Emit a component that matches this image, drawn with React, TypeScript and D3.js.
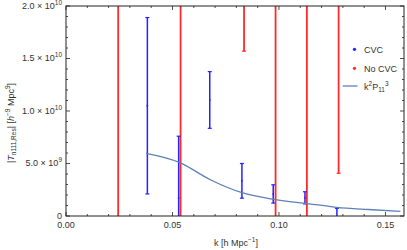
import * as d3 from "d3";

// k positions of the binned measurements
const cvcK = [0.0382, 0.0529, 0.0675, 0.0826, 0.0973, 0.1122, 0.1272];
const cvcVal = [1.05e10, 1.7e9, 1.105e10, 3.35e9, 2.1e9, 1.73e9, -1.0e8];
const cvcErr = [8.4e9, 5.9e9, 2.7e9, 1.65e9, 0.87e9, 0.58e9, 0.83e9];

const noCvcK = [0.0245, 0.0538, 0.0836, 0.0984, 0.1131, 0.128];
const noCvcVal = [1.0e10, 1.0e10, 3.0e10, 1.076e10, 7.24e9, 1.66e10];
const noCvcErr = [3.0e10, 2.5e10, 1.43e10, 1.5e10, 1.5e10, 1.253e10];

const modelK = [0.0376, 0.0532, 0.068, 0.0826, 0.0973, 0.1122, 0.127, 0.142, 0.157];
const modelVal = [5.97e9, 5.11e9, 3.43e9, 2.22e9, 1.59e9, 1.21e9, 8.3e8, 6.2e8, 4.5e8];

const xTicks = [0, 0.05, 0.1, 0.15];
const xTickLabels = ["0.00", "0.05", "0.10", "0.15"];
const yTicks = [0, 5e9, 1e10, 1.5e10, 2e10];
const yTickMant = ["0", "5.0", "1.0", "1.5", "2.0"];
const yTickExp = ["", "9", "10", "10", "10"];

const W = 407;
const H = 250;
const m = { left: 66, right: 3, top: 6, bottom: 34 };

const BLUE = "#2323ff";
const RED = "#ff2a2a";
const LINE = "#5e81b5";
const FONT = "'Liberation Sans', Arial, sans-serif";

export default function App() {
  const x = d3.scaleLinear().domain([0, 0.1587]).range([m.left, W - m.right]);
  const y = d3.scaleLinear().domain([0, 2e10]).range([H - m.bottom, m.top]);
  const [x0, x1] = x.range();
  const [y0, y1] = y.range();

  const line = d3
    .line<number>()
    .x((_, i) => x(modelK[i]))
    .y((d) => y(d))
    .curve(d3.curveMonotoneX);

  const xMinor = d3.range(0, 0.16, 0.01).filter((v) => Math.abs(v * 20 - Math.round(v * 20)) > 1e-6);
  const yMinor = d3.range(0, 2.01e10, 1e9).filter((v) => v % 5e9 !== 0);

  return (
    <svg
      width={W}
      height={H}
      style={{ position: "fixed", left: 0, top: 0, background: "#fff" }}
      fontFamily={FONT}
    >
      <defs>
        <clipPath id="plot">
          <rect x={x0} y={y1} width={x1 - x0} height={y0 - y1} />
        </clipPath>
      </defs>

      <g clipPath="url(#plot)">
        {noCvcK.map((k, i) => {
          const cx = x(k);
          const top = y(noCvcVal[i] + noCvcErr[i]);
          const bot = y(noCvcVal[i] - noCvcErr[i]);
          return (
            <g key={"r" + i} stroke={RED}>
              <line x1={cx} x2={cx} y1={top} y2={bot} strokeWidth={1.8} />
              <line x1={cx - 2} x2={cx + 2} y1={top} y2={top} strokeWidth={1.2} />
              <line x1={cx - 2} x2={cx + 2} y1={bot} y2={bot} strokeWidth={1.2} />
            </g>
          );
        })}
        {cvcK.map((k, i) => {
          const cx = x(k);
          const top = y(cvcVal[i] + cvcErr[i]);
          const bot = y(cvcVal[i] - cvcErr[i]);
          return (
            <g key={"b" + i} stroke={BLUE}>
              <line x1={cx} x2={cx} y1={top} y2={bot} strokeWidth={1.5} />
              <line x1={cx - 2} x2={cx + 2} y1={top} y2={top} strokeWidth={1.2} />
              <line x1={cx - 2} x2={cx + 2} y1={bot} y2={bot} strokeWidth={1.2} />
              <circle cx={cx} cy={y(cvcVal[i])} r={0.9} fill={BLUE} stroke="none" />
            </g>
          );
        })}
        <path d={line(modelVal) ?? ""} fill="none" stroke={LINE} strokeWidth={1.3} />
      </g>

      {/* frame */}
      <rect x={x0} y={y1} width={x1 - x0} height={y0 - y1} fill="none" stroke="#222" strokeWidth={1} />

      {/* ticks on all four sides */}
      <g stroke="#222" strokeWidth={0.8}>
        {xTicks.map((t) => (
          <g key={"xt" + t}>
            <line x1={x(t)} x2={x(t)} y1={y0} y2={y0 - 4} />
            <line x1={x(t)} x2={x(t)} y1={y1} y2={y1 + 4} />
          </g>
        ))}
        {xMinor.map((t) => (
          <g key={"xm" + t}>
            <line x1={x(t)} x2={x(t)} y1={y0} y2={y0 - 2} />
            <line x1={x(t)} x2={x(t)} y1={y1} y2={y1 + 2} />
          </g>
        ))}
        {yTicks.map((t) => (
          <g key={"yt" + t}>
            <line x1={x0} x2={x0 + 4} y1={y(t)} y2={y(t)} />
            <line x1={x1} x2={x1 - 4} y1={y(t)} y2={y(t)} />
          </g>
        ))}
        {yMinor.map((t) => (
          <g key={"ym" + t}>
            <line x1={x0} x2={x0 + 2} y1={y(t)} y2={y(t)} />
            <line x1={x1} x2={x1 - 2} y1={y(t)} y2={y(t)} />
          </g>
        ))}
      </g>

      {/* tick labels */}
      <g fill="#333" fontSize={9}>
        {xTicks.map((t, i) => (
          <text key={"xl" + t} x={x(t)} y={y0 + 12} textAnchor="middle">
            {xTickLabels[i]}
          </text>
        ))}
        {yTicks.map((t, i) => (
          <text key={"yl" + t} x={x0 - 4} y={y(t) + 2.5} textAnchor="end">
            {yTickExp[i] === "" ? (
              yTickMant[i]
            ) : (
              <>
                {yTickMant[i] + " × 10"}
                <tspan fontSize={6.5} dy={-4}>
                  {yTickExp[i]}
                </tspan>
              </>
            )}
          </text>
        ))}
      </g>

      {/* axis titles */}
      <text x={(x0 + x1) / 2 + 1} y={H - 4} textAnchor="middle" fontSize={9} fill="#333">
        k [h Mpc
        <tspan fontSize={6.5} dy={-4}>−1</tspan>
        <tspan dy={4}>]</tspan>
      </text>
      <text
        transform={`translate(14,${(y0 + y1) / 2 + 12}) rotate(-90)`}
        textAnchor="middle"
        fontSize={9}
        fill="#333"
      >
        |<tspan fontStyle="italic">T</tspan>
        <tspan fontSize={6.5} dy={2}>n111,Res</tspan>
        <tspan dy={-2}>| [</tspan>
        <tspan fontStyle="italic">h</tspan>
        <tspan fontSize={6.5} dy={-4}>−9</tspan>
        <tspan dy={4}> Mpc</tspan>
        <tspan fontSize={6.5} dy={-4}>9</tspan>
        <tspan dy={4}>]</tspan>
      </text>

      {/* legend */}
      <g fontSize={9} fill="#333">
        <circle cx={354.5} cy={49.3} r={1.6} fill={BLUE} />
        <text x={364} y={52.5}>CVC</text>
        <circle cx={354.5} cy={68.3} r={1.6} fill={RED} />
        <text x={364} y={71.5}>No CVC</text>
        <line x1={342.7} x2={357.5} y1={86} y2={86} stroke={LINE} strokeWidth={1.3} />
        <text x={364} y={89.5}>
          k<tspan fontSize={6.5} dy={-4}>2</tspan>
          <tspan dy={4}>P</tspan>
          <tspan fontSize={6.5} dy={2}>11</tspan>
          <tspan fontSize={6.5} dy={-6}>3</tspan>
        </text>
      </g>
    </svg>
  );
}
